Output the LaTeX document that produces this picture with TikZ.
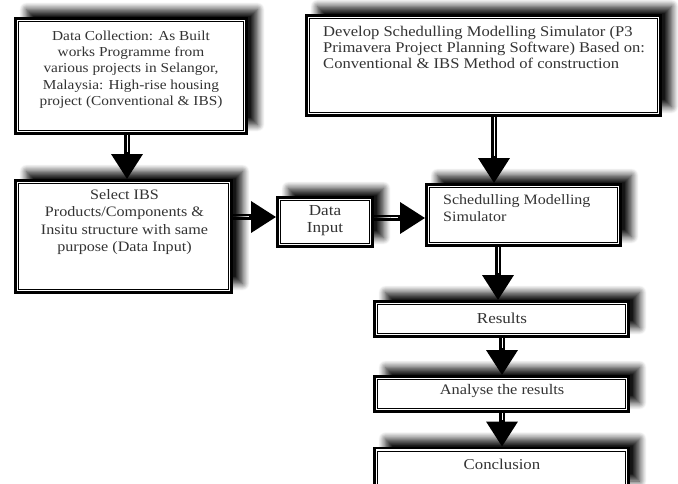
\documentclass[tikz,border=0pt]{standalone}
\usepackage{fontspec}
\setmainfont[FakeStretch=1.12]{Liberation Serif}
\usetikzlibrary{arrows.meta,shadows.blur}
\pgfdeclarelayer{bg}
\pgfsetlayers{bg,main}
\begin{document}
\begin{tikzpicture}[x=1pt,y=-1pt,
  box/.style={draw=black, line width=2.6pt, fill=white, rectangle, inner sep=0pt,
    blur shadow={shadow xshift=11pt, shadow yshift=9pt, shadow blur radius=7pt, shadow blur steps=12, shadow opacity=92},
    path picture={\draw[line width=0.8pt] ([shift={(3pt,-3pt)}]path picture bounding box.north west) rectangle ([shift={(-3pt,3pt)}]path picture bounding box.south east);}},
  txt/.style={text=black!80, inner sep=0pt},
  conn/.style={line width=6pt, -{Triangle[length=25pt,width=30pt]},
    postaction={draw=white, line width=1pt, -, shorten >=27pt}}]
\useasboundingbox (0,0) rectangle (678,484);
% boxes
\node[box, minimum width=231pt, minimum height=115pt] (b1) at (131,76) {};
\node[box, minimum width=354pt, minimum height=100pt] (b2) at (483.5,65.5) {};
\node[box, minimum width=216pt, minimum height=112pt] (b3) at (123.5,236.5) {};
\node[box, minimum width=95pt, minimum height=49pt] (di) at (325,222) {};
\node[box, minimum width=194pt, minimum height=61pt] (sc) at (523.5,215) {};
\node[box, minimum width=254pt, minimum height=35pt] (re) at (501.5,319) {};
\node[box, minimum width=254pt, minimum height=35pt] (an) at (501.5,394) {};
\node[box, minimum width=254pt, minimum height=42pt] (co) at (501.5,469) {};
% texts
\node[txt, align=center, anchor=north, font=\fontsize{13.7}{16.3}\selectfont] (t1) at (131,30.5) {Data Collection: As Built\\works Programme from\\various projects in Selangor,\\Malaysia: High-rise housing\\project (Conventional \& IBS)};
\node[txt, align=left, anchor=north west, font=\fontsize{14.8}{16}\selectfont] (t2) at (323,26.5) {Develop Schedulling Modelling Simulator (P3\\Primavera Project Planning Software) Based on:\\Conventional \& IBS Method of construction};
\node[txt, align=center, anchor=north, font=\fontsize{14.4}{17.5}\selectfont] (t3) at (124.5,189) {Select IBS\\Products/Components \&\\Insitu structure with same\\purpose (Data Input)};
\node[txt, align=center, anchor=north, font=\fontsize{15.3}{17}\selectfont] (t4) at (325,205.5) {Data\\Input};
\node[txt, align=left, anchor=north west, font=\fontsize{14.3}{17}\selectfont] (t5) at (443,194) {Schedulling Modelling\\Simulator};
\node[txt, font=\fontsize{15.2}{17}\selectfont] (t6) at (502,318) {Results};
\node[txt, font=\fontsize{14.6}{17}\selectfont] (t7) at (502,391) {Analyse the results};
\node[txt, font=\fontsize{15}{17}\selectfont] (t8) at (502,464) {Conclusion};
% connectors
\coordinate (x1) at (127,0);
\coordinate (x2) at (494,0);
\coordinate (x3) at (498,0);
\coordinate (x4) at (502,0);
\coordinate (y1) at (0,217);
\coordinate (y2) at (0,218);
\begin{pgfonlayer}{bg}
\draw[conn] (b1.south -| x1) -- (b3.north -| x1);
\draw[conn] (b2.south -| x2) -- (sc.north -| x2);
\draw[conn] (sc.south -| x3) -- (re.north -| x3);
\draw[conn] (re.south -| x4) -- (an.north -| x4);
\draw[conn] (an.south -| x4) -- (co.north -| x4);
\draw[conn] (b3.east |- y1) -- (di.west |- y1);
\draw[conn] (di.east |- y2) -- (sc.west |- y2);
\end{pgfonlayer}
\end{tikzpicture}
\end{document}
